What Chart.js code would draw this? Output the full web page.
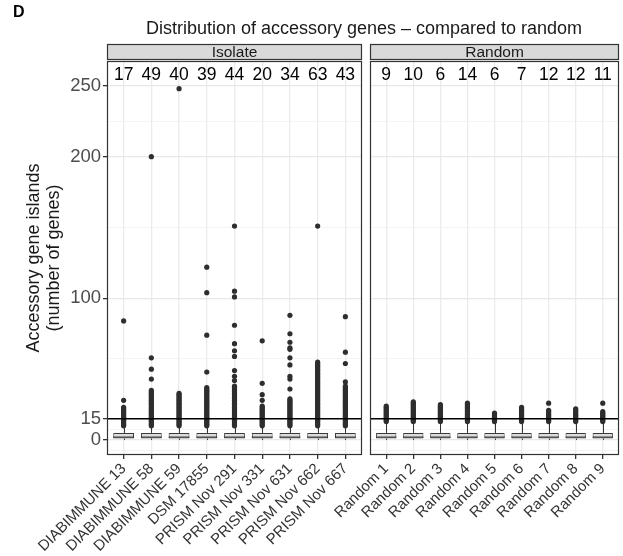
<!DOCTYPE html>
<html>
<head>
<meta charset="utf-8">
<script src="https://cdn.jsdelivr.net/npm/chart.js@4"></script>
<style>
  body { margin: 0; background: #fff; }
  #wrap { position: relative; width: 623px; height: 556px; font-family: 'Liberation Sans', Arial, sans-serif; }
  canvas { position: absolute; top: 0; }
  #panelLabel { position: absolute; left: 13px; top: 3px; font-weight: bold; font-size: 16px; color: #000; }
  #title { position: absolute; left: 107px; width: 514px; top: 18px; text-align: center; font-size: 18px; color: #1a1a1a; white-space: nowrap; }
</style>
</head>
<body>
<div id="wrap">
  <canvas id="isolateChart" width="366" height="556" style="left:0"></canvas>
  <canvas id="randomChart" width="323" height="556" style="left:300px"></canvas>
  <div id="panelLabel">D</div>
  <div id="title">Distribution of accessory genes – compared to random</div>
</div>
<script>
// categories
const isolates = ['DIABIMMUNE 13', 'DIABIMMUNE 58', 'DIABIMMUNE 59', 'DSM 17855', 'PRISM Nov 291',
  'PRISM Nov 331', 'PRISM Nov 631', 'PRISM Nov 662', 'PRISM Nov 667'];
const randoms = ['Random 1', 'Random 2', 'Random 3', 'Random 4', 'Random 5',
  'Random 6', 'Random 7', 'Random 8', 'Random 9'];

// numbers printed above each box
const isolateCounts = [17, 49, 40, 39, 44, 20, 34, 63, 43];
const randomCounts = [9, 10, 6, 14, 6, 7, 12, 12, 11];

// box stats
const isolateQ1 = [1, 1, 1, 1, 1, 1, 1, 1, 1];
const isolateMedian = [2, 2, 2, 2, 2, 2, 2, 2, 2];
const isolateQ3 = [5, 5, 5, 5, 5, 5, 5, 5, 5];
const isolateLow = [0, 0, 0, 0, 0, 0, 0, 0, 0];
const isolateHigh = [9, 9, 9, 9, 9, 9, 9, 9, 9];

const randomQ1 = [1, 1, 1, 1, 1, 1, 1, 1, 1];
const randomMedian = [2, 2, 2, 2, 2, 2, 2, 2, 2];
const randomQ3 = [5, 5, 5, 5, 5, 5, 5, 5, 5];
const randomLow = [0, 0, 0, 0, 0, 0, 0, 0, 0];
const randomHigh = [12, 12, 12, 12, 12, 12, 12, 12, 12];

// outlier points
const isolateOutliers = [
  [10, 11, 12, 13, 14, 15, 16, 17, 18, 19, 20, 21, 22, 23, 28, 84],
  [10, 11, 12, 13, 14, 15, 16, 17, 18, 19, 20, 21, 22, 23, 24, 25, 26, 27, 28, 29, 30, 31, 32, 33, 34, 35, 43, 50, 58, 200],
  [10, 11, 12, 13, 14, 15, 16, 17, 18, 19, 20, 21, 22, 23, 24, 25, 26, 27, 28, 29, 30, 31, 32, 33, 248],
  [10, 11, 12, 13, 14, 15, 16, 17, 18, 19, 20, 21, 22, 23, 24, 25, 26, 27, 28, 29, 30, 31, 32, 33, 34, 35, 36, 37, 48, 74, 104, 122],
  [10, 11, 12, 13, 14, 15, 16, 17, 18, 19, 20, 21, 22, 23, 24, 25, 26, 27, 28, 29, 30, 31, 32, 33, 34, 35, 36, 37, 38, 42, 45, 49, 59, 63, 68, 81, 101, 105, 151],
  [10, 11, 12, 13, 14, 15, 16, 17, 18, 19, 20, 21, 22, 23, 24, 28, 32, 40, 70],
  [10, 11, 12, 13, 14, 15, 16, 17, 18, 19, 20, 21, 22, 23, 24, 25, 26, 27, 28, 29, 36, 43, 45, 53, 58, 64, 65, 69, 75, 88],
  [10, 11, 12, 13, 14, 15, 16, 17, 18, 19, 20, 21, 22, 23, 24, 25, 26, 27, 28, 29, 30, 31, 32, 33, 34, 35, 36, 37, 38, 39, 40, 41, 42, 43, 44, 45, 46, 47, 48, 49, 50, 51, 52, 53, 54, 55, 151],
  [10, 11, 12, 13, 14, 15, 16, 17, 18, 19, 20, 21, 22, 23, 24, 25, 26, 27, 28, 29, 30, 31, 32, 33, 34, 35, 36, 37, 38, 41, 54, 62, 87]
];
const randomOutliers = [
  [13, 14, 15, 16, 17, 18, 19, 20, 21, 22, 23, 24],
  [13, 14, 15, 16, 17, 18, 19, 20, 21, 22, 23, 24, 25, 26, 27],
  [13, 14, 15, 16, 17, 18, 19, 20, 21, 22, 23, 24, 25],
  [13, 14, 15, 16, 17, 18, 19, 20, 21, 22, 23, 24, 25, 26],
  [13, 14, 15, 16, 17, 18, 19],
  [13, 14, 15, 16, 17, 18, 19, 20, 21, 22, 23],
  [13, 14, 15, 16, 17, 18, 19, 20, 21, 26],
  [13, 14, 15, 16, 17, 18, 19, 20, 21, 22],
  [13, 14, 15, 16, 17, 18, 19, 20, 26]
];

// axis
const yTicks = [0, 15, 100, 200, 250];
const yMinorTicks = [-7.5, 7.5, 57.5, 150, 225];
const cutoff = 15;

const family = "'Liberation Sans', Arial, sans-serif";
Chart.defaults.font.family = family;

function yScale(showLabels) {
  return {
    min: -10.6,
    max: 267.5,
    afterBuildTicks: s => {
      s.ticks = yMinorTicks.concat(yTicks).sort((a, b) => a - b).map(v => ({ value: v }));
    },
    ticks: {
      display: showLabels,
      autoSkip: false,
      color: '#4d4d4d',
      font: { size: 18.5 },
      padding: 2,
      callback: v => yTicks.includes(v) ? String(v) : ''
    },
    grid: {
      color: c => yTicks.includes(c.tick.value) ? '#e8e8e8' : '#efefef',
      lineWidth: c => yTicks.includes(c.tick.value) ? 1.3 : 0.7,
      tickColor: c => yTicks.includes(c.tick.value) ? '#333' : 'rgba(0,0,0,0)',
      tickLength: 4,
      drawTicks: showLabels
    },
    border: { display: false },
    title: {
      display: showLabels,
      text: ['Accessory gene islands', '(number of genes)'],
      color: '#1a1a1a',
      font: { size: 18, lineHeight: 1.1 },
      padding: { top: 24, bottom: 0 }
    },
    afterFit: s => { s.width = showLabels ? 107 : 0; }
  };
}

function xScale(labels) {
  return {
    type: 'linear',
    min: 0.4,
    max: 9.6,
    offset: false,
    afterBuildTicks: s => { s.ticks = labels.map((l, i) => ({ value: i + 1 })); },
    ticks: {
      autoSkip: false,
      minRotation: 45,
      maxRotation: 45,
      color: '#333',
      font: { size: 15 },
      padding: 1,
      callback: v => labels[v - 1]
    },
    grid: { offset: false, color: '#ebebeb', lineWidth: 1.3, tickColor: '#333', tickLength: 4 },
    border: { display: false },
    afterFit: s => { s.height = 101; }
  };
}

function facetPlugin(stripText, counts, q1, median, q3, low, high) {
  return {
    id: 'facet',
    beforeDatasetsDraw(chart) {
      const ctx = chart.ctx, x = chart.scales.x, y = chart.scales.y;
      ctx.save();
      ctx.strokeStyle = '#333';
      ctx.lineWidth = 1;
      q1.forEach((v, i) => {
        const px = Math.round(x.getPixelForValue(i + 1)) + 0.5;
        ctx.beginPath();
        ctx.moveTo(px, y.getPixelForValue(q3[i]));
        ctx.lineTo(px, y.getPixelForValue(high[i]));
        ctx.moveTo(px, y.getPixelForValue(v));
        ctx.lineTo(px, y.getPixelForValue(low[i]));
        ctx.stroke();
      });
      ctx.restore();
    },
    afterDatasetsDraw(chart) {
      const ctx = chart.ctx, x = chart.scales.x, y = chart.scales.y;
      const meta = chart.getDatasetMeta(2);
      ctx.save();
      ctx.strokeStyle = '#333';
      ctx.lineWidth = 1.2;
      median.forEach((v, i) => {
        const w = meta.data[i].width;
        const px = x.getPixelForValue(i + 1);
        const py = y.getPixelForValue(v);
        ctx.beginPath();
        ctx.moveTo(px - w / 2, py);
        ctx.lineTo(px + w / 2, py);
        ctx.stroke();
      });
      ctx.restore();
    },
    afterDraw(chart) {
      const ctx = chart.ctx, a = chart.chartArea, x = chart.scales.x;
      ctx.save();
      ctx.strokeStyle = '#333';
      ctx.lineWidth = 1.2;
      ctx.strokeRect(a.left + 0.5, a.top + 0.5, a.right - a.left - 1, a.bottom - a.top - 1);
      // strip
      ctx.fillStyle = '#d9d9d9';
      ctx.fillRect(a.left + 0.5, 44.5, a.right - a.left - 1, 15);
      ctx.strokeRect(a.left + 0.5, 44.5, a.right - a.left - 1, 15);
      ctx.fillStyle = '#1a1a1a';
      ctx.font = '15.5px ' + family;
      ctx.textAlign = 'center';
      ctx.textBaseline = 'middle';
      ctx.fillText(stripText, (a.left + a.right) / 2, 52.5);
      // counts
      ctx.font = '17.5px ' + family;
      ctx.fillStyle = '#000';
      counts.forEach((c, i) => {
        ctx.fillText(String(c), x.getPixelForValue(i + 1), 75);
      });
      ctx.restore();
    }
  };
}

function makeChart(id, labels, counts, stripText, q1, median, q3, low, high, outliers, showY, padding) {
  const points = [];
  outliers.forEach((vals, i) => vals.forEach(v => points.push({ x: i + 1, y: v })));
  new Chart(document.getElementById(id), {
    type: 'bar',
    data: {
      datasets: [
        {
          type: 'line',
          data: [{ x: 0.4, y: cutoff }, { x: 9.6, y: cutoff }],
          borderColor: '#000',
          borderWidth: 1.4,
          pointRadius: 0,
          order: 0
        },
        {
          type: 'scatter',
          data: points,
          pointRadius: 2.6,
          pointBackgroundColor: '#2e2e2e',
          pointBorderWidth: 0,
          order: 1
        },
        {
          type: 'bar',
          data: q1.map((v, i) => ({ x: i + 1, y: [v, q3[i]] })),
          backgroundColor: '#dcdcdc',
          borderColor: '#3a3a3a',
          borderWidth: 1,
          borderSkipped: false,
          barPercentage: 0.75,
          categoryPercentage: 1,
          order: 2
        }
      ]
    },
    options: {
      responsive: false,
      animation: false,
      layout: { padding: padding },
      plugins: { legend: { display: false }, tooltip: { enabled: false } },
      scales: { x: xScale(labels), y: yScale(showY) }
    },
    plugins: [facetPlugin(stripText, counts, q1, median, q3, low, high)]
  });
}

makeChart('isolateChart', isolates, isolateCounts, 'Isolate',
  isolateQ1, isolateMedian, isolateQ3, isolateLow, isolateHigh, isolateOutliers,
  true, { top: 61, right: 4, left: 0, bottom: 0 });
makeChart('randomChart', randoms, randomCounts, 'Random',
  randomQ1, randomMedian, randomQ3, randomLow, randomHigh, randomOutliers,
  false, { top: 61, right: 2, left: 70, bottom: 0 });
</script>
</body>
</html>
